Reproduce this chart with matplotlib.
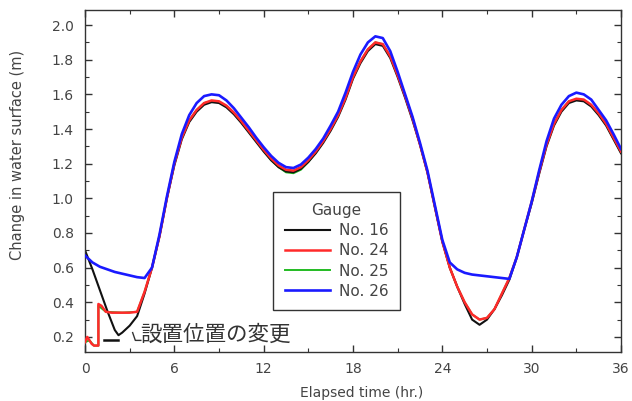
import numpy as np
import matplotlib
matplotlib.use("Agg")
import matplotlib.pyplot as plt
from matplotlib.ticker import MultipleLocator, FormatStrFormatter

plt.rcParams['font.family'] = ['DejaVu Sans', 'Noto Sans CJK JP']

# ---------------- data ----------------
t_tide = [4.5, 5.0, 5.5, 6.0, 6.5, 7.0, 7.5, 8.0, 8.5, 9.0, 9.5, 10.0, 10.5, 11.0, 11.5, 12.0,
          12.5, 13.0, 13.5, 14.0, 14.5, 15.0, 15.5, 16.0, 16.5, 17.0, 17.5, 18.0, 18.5, 19.0,
          19.5, 20.0, 20.5, 21.0, 21.5, 22.0, 22.5, 23.0, 23.5, 24.0, 24.5, 25.0, 25.5, 26.0,
          26.5, 27.0, 27.5, 28.0, 28.5, 29.0, 29.5, 30.0, 30.5, 31.0, 31.5, 32.0, 32.5, 33.0,
          33.5, 34.0, 34.5, 35.0, 35.5, 36.0]

# Gauge No. 16 (black)
t_early_16 = [0, 0.5, 1.0, 1.5, 2.0, 2.25, 2.5, 3.0, 3.5, 4.0]
h_early_16 = [0.70, 0.59, 0.47, 0.35, 0.24, 0.21, 0.225, 0.265, 0.32, 0.45]
h_tide_16 = [0.60, 0.78, 1.00, 1.19, 1.34, 1.44, 1.50, 1.54, 1.555, 1.55, 1.525, 1.485, 1.435, 1.38,
             1.325, 1.27, 1.22, 1.18, 1.155, 1.15, 1.17, 1.21, 1.26, 1.32, 1.39, 1.47, 1.57, 1.69,
             1.78, 1.85, 1.89, 1.88, 1.81, 1.70, 1.58, 1.45, 1.31, 1.15, 0.95, 0.75, 0.60, 0.49,
             0.39, 0.30, 0.27, 0.30, 0.36, 0.44, 0.53, 0.66, 0.82, 0.97, 1.14, 1.30, 1.42, 1.50,
             1.55, 1.565, 1.56, 1.53, 1.48, 1.42, 1.34, 1.26]

# Gauge No. 24 (red)
t_early_24 = [0, 0.15, 0.3, 0.45, 0.6, 0.9, 0.9, 1.1, 1.4, 1.8, 2.5, 3.0, 3.5, 4.0]
h_early_24 = [0.17, 0.20, 0.18, 0.16, 0.15, 0.15, 0.39, 0.38, 0.345, 0.34, 0.34, 0.34, 0.345, 0.46]
h_tide_24 = [0.60, 0.78, 1.00, 1.20, 1.35, 1.45, 1.51, 1.55, 1.565, 1.56, 1.535, 1.495, 1.445, 1.39,
             1.335, 1.28, 1.23, 1.19, 1.165, 1.16, 1.18, 1.22, 1.27, 1.33, 1.40, 1.48, 1.58, 1.70,
             1.79, 1.86, 1.90, 1.89, 1.82, 1.71, 1.59, 1.46, 1.31, 1.15, 0.95, 0.75, 0.60, 0.49,
             0.40, 0.33, 0.30, 0.31, 0.36, 0.45, 0.54, 0.66, 0.82, 0.98, 1.15, 1.31, 1.43, 1.51,
             1.56, 1.575, 1.57, 1.54, 1.49, 1.43, 1.35, 1.27]

# Gauge No. 25 (green)
t_early_25 = [0, 0.3, 0.6, 0.9, 0.9, 1.4, 2.5, 3.5, 4.0]
h_early_25 = [0.17, 0.18, 0.15, 0.15, 0.38, 0.345, 0.34, 0.345, 0.46]
h_tide_25 = [0.60, 0.78, 1.00, 1.20, 1.35, 1.45, 1.51, 1.55, 1.56, 1.555, 1.53, 1.49, 1.44, 1.385,
             1.33, 1.275, 1.22, 1.18, 1.15, 1.145, 1.165, 1.21, 1.265, 1.33, 1.40, 1.48, 1.58, 1.70,
             1.79, 1.86, 1.90, 1.89, 1.82, 1.71, 1.59, 1.46, 1.31, 1.15, 0.95, 0.75, 0.60, 0.49,
             0.40, 0.33, 0.30, 0.31, 0.36, 0.45, 0.54, 0.66, 0.82, 0.98, 1.15, 1.31, 1.43, 1.51,
             1.56, 1.57, 1.565, 1.535, 1.485, 1.425, 1.345, 1.265]

# Gauge No. 26 (blue)
t_early_26 = [0, 0.5, 1.0, 1.5, 2.0, 2.5, 3.0, 3.5, 4.0]
h_early_26 = [0.67, 0.63, 0.605, 0.59, 0.575, 0.565, 0.555, 0.545, 0.54]
h_tide_26 = [0.60, 0.79, 1.01, 1.21, 1.37, 1.48, 1.55, 1.59, 1.60, 1.595, 1.565, 1.52, 1.465, 1.41,
             1.35, 1.295, 1.245, 1.205, 1.18, 1.175, 1.195, 1.235, 1.285, 1.345, 1.42, 1.50, 1.61,
             1.73, 1.83, 1.90, 1.935, 1.925, 1.85, 1.73, 1.60, 1.47, 1.32, 1.16, 0.96, 0.76, 0.63,
             0.59, 0.57, 0.56, 0.555, 0.55, 0.545, 0.54, 0.535, 0.66, 0.82, 0.98, 1.16, 1.33, 1.46,
             1.54, 1.59, 1.61, 1.60, 1.57, 1.51, 1.45, 1.37, 1.285]

labels = ["No. 16", "No. 24", "No. 25", "No. 26"]
colors = ["#111111", "#ff2a2a", "#22bb22", "#1a1aff"]

x_ticks = [0, 6, 12, 18, 24, 30, 36]
y_ticks = [0.2, 0.4, 0.6, 0.8, 1.0, 1.2, 1.4, 1.6, 1.8, 2.0]

annot_text = "設置位置の変更"

# ---------------- figure ----------------
fig = plt.figure(figsize=(6.32, 4.01), dpi=100)
ax = fig.add_axes([85 / 632, 1 - 352 / 401, (621 - 85) / 632, (352 - 10) / 401])

lines = []
for (te, he, ht), lab, col, lw, z in [
    ((t_early_16, h_early_16, h_tide_16), labels[0], colors[0], 1.5, 2),
    ((t_early_24, h_early_24, h_tide_24), labels[1], colors[1], 1.8, 3),
    ((t_early_25, h_early_25, h_tide_25), labels[2], colors[2], 1.4, 1),
    ((t_early_26, h_early_26, h_tide_26), labels[3], colors[3], 1.9, 4),
]:
    x = list(te) + list(t_tide)
    y = list(he) + list(ht)
    ln, = ax.plot(x, y, color=col, lw=lw, zorder=z, label=lab)
    lines.append(ln)

ax.set_xlim(0, 36)
ax.set_ylim(0.113, 2.087)
ax.set_xticks(x_ticks)
ax.set_yticks(y_ticks)
ax.xaxis.set_minor_locator(MultipleLocator(3))
ax.yaxis.set_minor_locator(MultipleLocator(0.1))
ax.yaxis.set_major_formatter(FormatStrFormatter('%.1f'))
ax.tick_params(which='both', direction='in', top=True, right=True, colors='#333333',
               labelcolor='#444444', labelsize=10)
ax.tick_params(which='major', length=5, width=1)
ax.tick_params(which='minor', length=3, width=0.8)
ax.tick_params(axis='x', pad=7)
ax.tick_params(axis='y', pad=8)
for s in ax.spines.values():
    s.set_color('#333333')
    s.set_linewidth(1.0)

ax.set_xlabel("Elapsed time (hr.)", fontsize=10, color='#444444')
ax.set_ylabel("Change in water surface (m)", fontsize=10.5, color='#444444')
ax.xaxis.set_label_coords(0.517, -0.098)
ax.yaxis.set_label_coords(-0.112, 0.576)

# annotation
ax.plot([1.25, 2.2], [0.18, 0.18], color='#111111', lw=1.8, zorder=5)
ax.plot([3.2, 3.38, 3.75], [0.225, 0.18, 0.18], color='#333333', lw=1.0, zorder=5)
ax.text(3.7, 0.21, annot_text, fontsize=15.5, color='#333333', va='center', ha='left',
        family=['Noto Sans CJK JP', 'DejaVu Sans'])

leg = ax.legend(handles=lines, title="Gauge", loc='upper left', bbox_to_anchor=(0.351, 0.468),
                borderaxespad=0, fontsize=11, title_fontsize=11, frameon=True, fancybox=False,
                edgecolor='#333333', framealpha=1, handlelength=3.0, handletextpad=0.55,
                labelspacing=0.33, borderpad=0.75)
leg.get_frame().set_linewidth(1.0)
for txt in leg.get_texts():
    txt.set_color('#444444')
leg.get_title().set_color('#444444')

fig.savefig("out.png", dpi=100)
